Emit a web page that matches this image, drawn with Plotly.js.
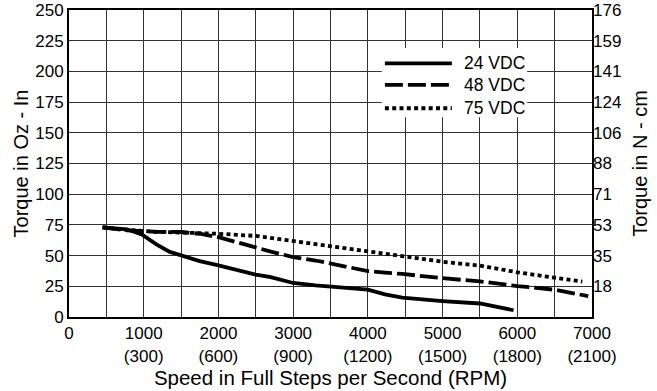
<!DOCTYPE html>
<html><head><meta charset="utf-8">
<script src="https://cdn.plot.ly/plotly-3.0.1.min.js"></script>
<style>html,body{margin:0;padding:0;background:#fff}#chart{width:657px;height:391px}</style>
</head><body><div id="chart"></div>
<script>
// ---- data ----
const seriesNames = ['24 VDC', '48 VDC', '75 VDC'];
const speed24  = [450, 775, 975, 1175, 1350, 1500, 1750, 2000, 2280, 2500, 2700, 3000, 3300, 3700, 4000, 4230, 4460, 5000, 5500, 5950];
const torque24 = [73, 71.4, 67.2, 59, 53, 50, 45.5, 42, 37.8, 34.5, 32.5, 27.7, 25.7, 24, 22.3, 18.5, 15.8, 13, 11, 5.5];
const speed48  = [450, 775, 1175, 1500, 1750, 2000, 2280, 2500, 2700, 3000, 3300, 3700, 4000, 4230, 4460, 5000, 5500, 6000, 6500, 6950];
const torque48 = [73, 70.6, 69.4, 69.2, 67.8, 65, 60.3, 56.3, 53.3, 48.8, 46, 41.1, 37.4, 36.1, 35.1, 31.6, 29, 25.2, 22.2, 17];
const speed75  = [450, 775, 1175, 1500, 2000, 2500, 3000, 3300, 3700, 4000, 4230, 4460, 5000, 5500, 6000, 6500, 6870];
const torque75 = [73, 71, 69.4, 69, 67.8, 66, 61.7, 58.9, 55.6, 53.3, 51.1, 49, 45, 41.8, 36.4, 32, 28.8];

const xTickVals = [0, 500, 1000, 1500, 2000, 2500, 3000, 3500, 4000, 4500, 5000, 5500, 6000, 6500, 7000];
const xTickText = ['0', '', '1000<br>(300)', '', '2000<br>(600)', '', '3000<br>(900)', '', '4000<br>(1200)', '', '5000<br>(1500)', '', '6000<br>(1800)', '', '7000<br>(2100)'];
const yTickVals = [0, 25, 50, 75, 100, 125, 150, 175, 200, 225, 250];
const yRightVals = [25, 50, 75, 100, 125, 150, 175, 200, 225, 250];
const yRightText = ['18', '35', '53', '71', '88', '106', '124', '141', '159', '176'];

// ---- styles ----
const FONT = 'Liberation Sans, Arial, Helvetica, sans-serif';
const dashes = ['solid', '18px,5px', '4px,3.3px'];
const widths = [3.8, 3.8, 3.8];
const xs = [speed24, speed48, speed75];
const ys = [torque24, torque48, torque75];

const traces = seriesNames.map((n, i) => ({
  x: xs[i], y: ys[i], name: n, type: 'scatter', mode: 'lines',
  line: {color: '#000', width: widths[i], dash: dashes[i]},
  hoverinfo: 'x+y+name'
}));
// helper trace so the right-hand axis is drawn
traces.push({x: speed24, y: torque24, yaxis: 'y2', mode: 'lines', line: {width: 0}, opacity: 0, hoverinfo: 'skip', showlegend: false});

// custom legend (paper coords)
const legRows = [0.826, 0.756, 0.680];
const shapes = [{type: 'rect', xref: 'paper', yref: 'paper', x0: 0.598, x1: 0.876, y0: 0.651, y1: 0.876,
  fillcolor: '#fff', line: {width: 0}, layer: 'above'}];
const annotations = [];
seriesNames.forEach((n, i) => {
  shapes.push({type: 'line', xref: 'paper', yref: 'paper', x0: 0.604, x1: 0.732, y0: legRows[i], y1: legRows[i],
    line: {color: '#000', width: widths[i], dash: dashes[i]}, layer: 'above'});
  annotations.push({xref: 'paper', yref: 'paper', x: 0.751, y: legRows[i], xanchor: 'left', yanchor: 'middle',
    text: n, showarrow: false, font: {family: FONT, size: 17.5, color: '#000'}});
});

const gridColor = '#333';
const layout = {
  width: 657, height: 391,
  margin: {l: 69, r: 65, t: 10, b: 74, autoexpand: false},
  paper_bgcolor: '#fff', plot_bgcolor: '#fff',
  font: {family: FONT, size: 17, color: '#000'},
  showlegend: false,
  xaxis: {
    range: [0, 7000], tickmode: 'array', tickvals: xTickVals, ticktext: xTickText,
    showgrid: true, gridcolor: gridColor, gridwidth: 1, zeroline: false,
    showline: true, linecolor: '#000', linewidth: 2, mirror: true, ticks: '',
    tickfont: {size: 17}, tickangle: 0,
    title: {text: 'Speed in Full Steps per Second (RPM)', font: {size: 20.5}, standoff: 6}
  },
  yaxis: {
    range: [0, 250], tickmode: 'array', tickvals: yTickVals,
    showgrid: true, gridcolor: gridColor, gridwidth: 1, zeroline: false,
    showline: true, linecolor: '#000', linewidth: 2, mirror: true, ticks: '',
    tickfont: {size: 17},
    title: {text: 'Torque in Oz - In', font: {size: 20}, standoff: 1}
  },
  yaxis2: {
    overlaying: 'y', side: 'right', range: [0, 250], tickmode: 'array',
    tickvals: yRightVals, ticktext: yRightText,
    showgrid: false, zeroline: false, showline: false, ticks: '',
    tickfont: {size: 17},
    title: {text: 'Torque in N - cm', font: {size: 20}, standoff: 12}
  },
  shapes: shapes,
  annotations: annotations
};

Plotly.newPlot('chart', traces, layout, {displayModeBar: false, staticPlot: true});
</script>
</body></html>
